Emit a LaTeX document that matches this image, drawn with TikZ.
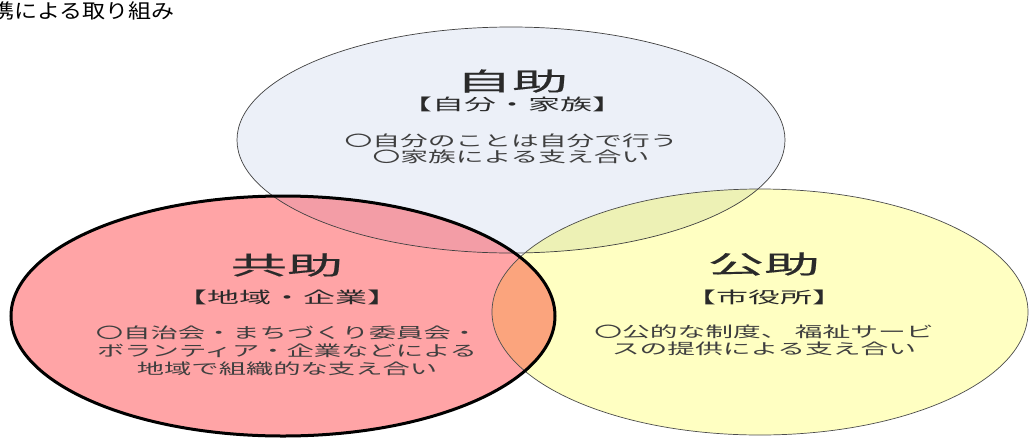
\documentclass[tikz,border=0pt]{standalone}
\usepackage{fontspec}
\usepackage{graphicx}
\newfontfamily\jp{Noto Sans CJK JP}
\newfontfamily\jpt[FakeBold=0.3]{Noto Sans CJK JP}
\definecolor{blueF}{HTML}{ECF0F8}
\definecolor{pinkF}{HTML}{FFA4A6}
\definecolor{yellowF}{HTML}{FFFFC2}
\definecolor{bpF}{HTML}{F39DA6}
\definecolor{byF}{HTML}{EDF1B5}
\definecolor{pyF}{HTML}{FBA47D}
\definecolor{txt}{HTML}{2A2A2A}
\newcommand{\sx}[2]{\scalebox{#1}[1]{#2}}
\tikzset{
  ttl/.style={inner sep=0pt, text=txt, font=\jpt\fontsize{25}{25}\selectfont},
  sub/.style={inner sep=0pt, text=txt, font=\jp\fontsize{16}{16}\selectfont},
  body/.style={inner sep=0pt, text=txt!90, font=\jp\fontsize{15}{15}\selectfont},
  captxt/.style={inner sep=0pt, text=black, font=\jp\fontsize{20}{20}\selectfont},
}
\begin{document}
\begin{tikzpicture}[x=1pt,y=-1pt]
\useasboundingbox (0,0) rectangle (1031,437);
\fill[white] (0,0) rectangle (1031,437);
% geometry
\def\topE{(511,140) ellipse [x radius=274, y radius=113]}
\def\pinkE{(283,316) ellipse [x radius=272, y radius=120]}
\def\yelE{(760,312) ellipse [x radius=268, y radius=123]}
% fills
\fill[blueF] \topE;
\fill[pinkF] \pinkE;
\fill[yellowF] \yelE;
\begin{scope}\clip \topE; \fill[bpF] \pinkE; \end{scope}
\begin{scope}\clip \topE; \fill[byF] \yelE; \end{scope}
\begin{scope}\clip \pinkE; \fill[pyF] \yelE; \end{scope}
% borders
\draw[black!75, line width=0.7pt] \topE;
\draw[black!70, line width=0.7pt] \yelE;
\draw[black, line width=3pt] \pinkE;
% caption
\node[captxt, anchor=west] (cap) at (-9,11) {\sx{1.15}{携による取り組み}};
% top: 自助
\node[ttl] (t1) at (512,81) {\sx{2.25}{自助}};
\node[sub] (t2) at (512,104) {\sx{2.0}{【自分・家族】}};
\node[body] (t3) at (511,141) {\sx{1.85}{〇自分のことは自分で行う}};
\node[body] (t4) at (511,156.5) {\sx{1.85}{〇家族による支え合い}};
% left: 共助
\node[ttl] (p1) at (287,265) {\sx{2.25}{共助}};
\node[sub] (p2) at (287,297) {\sx{2.0}{【地域・企業】}};
\node[body] (p3) at (287,333) {\sx{1.82}{〇自治会・まちづくり委員会・}};
\node[body] (p4) at (287,351) {\sx{1.82}{ボランティア・企業などによる}};
\node[body] (p5) at (287,369) {\sx{1.82}{地域で組織的な支え合い}};
% right: 公助
\node[ttl] (y1) at (764,264) {\sx{2.25}{公助}};
\node[sub] (y2) at (764,297) {\sx{2.0}{【市役所】}};
\node[body] (y3) at (764,332) {\sx{1.85}{〇公的な制度、\ 福祉サービ}};
\node[body] (y4) at (764,349) {\sx{1.85}{スの提供による支え合い}};
\end{tikzpicture}
\end{document}
